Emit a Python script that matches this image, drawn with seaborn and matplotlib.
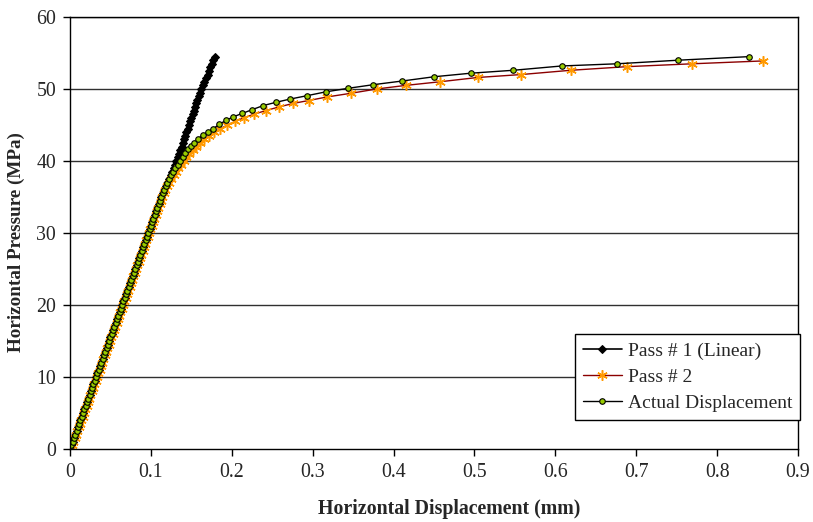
import matplotlib
matplotlib.use("Agg")
import matplotlib.pyplot as plt
import seaborn as sns
import pandas as pd

# ---- data ----
p_lin = [0.0, 0.5, 1.0, 1.5, 2.0, 2.5, 3.0, 3.5, 4.0, 4.5, 5.0, 5.5, 6.0, 6.5, 7.0, 7.5,
         8.0, 8.5, 9.0, 9.5, 10.0, 10.5, 11.0, 11.5, 12.0, 12.5, 13.0, 13.5, 14.0, 14.5,
         15.0, 15.5, 16.0, 16.5, 17.0, 17.5, 18.0, 18.5, 19.0, 19.5, 20.0, 20.5, 21.0,
         21.5, 22.0, 22.5, 23.0, 23.5, 24.0, 24.5, 25.0, 25.5, 26.0, 26.5, 27.0, 27.5,
         28.0, 28.5, 29.0, 29.5, 30.0, 30.5, 31.0, 31.5, 32.0, 32.5, 33.0, 33.5, 34.0,
         34.5, 35.0, 35.5, 36.0, 36.5, 37.0, 37.5]
x_lin = [0.0000, 0.0016, 0.0032, 0.0048, 0.0065, 0.0081, 0.0097, 0.0113, 0.0129, 0.0145,
         0.0161, 0.0177, 0.0194, 0.0210, 0.0226, 0.0242, 0.0258, 0.0274, 0.0290, 0.0306,
         0.0323, 0.0339, 0.0355, 0.0371, 0.0387, 0.0403, 0.0419, 0.0435, 0.0452, 0.0468,
         0.0484, 0.0500, 0.0516, 0.0532, 0.0548, 0.0565, 0.0581, 0.0597, 0.0613, 0.0629,
         0.0645, 0.0661, 0.0677, 0.0694, 0.0710, 0.0726, 0.0742, 0.0758, 0.0774, 0.0790,
         0.0806, 0.0823, 0.0839, 0.0855, 0.0871, 0.0887, 0.0903, 0.0919, 0.0935, 0.0952,
         0.0968, 0.0984, 0.1000, 0.1016, 0.1032, 0.1048, 0.1065, 0.1081, 0.1097, 0.1113,
         0.1129, 0.1146, 0.1165, 0.1185, 0.1205, 0.1228]

# Pass # 1 (Linear): upper part
p1_p_up = [38.0, 38.5, 39.0, 39.5, 40.0, 40.5, 41.0, 41.5, 42.0, 42.5, 43.0, 43.5, 44.0,
           44.5, 45.0, 45.5, 46.0, 46.5, 47.0, 47.5, 48.0, 48.5, 49.0, 49.5, 50.0, 50.5,
           51.0, 51.5, 52.0, 52.5, 53.0, 53.5, 54.0, 54.5]
p1_x_up = [0.1245, 0.1262, 0.1280, 0.1297, 0.1315, 0.1331, 0.1347, 0.1364, 0.1380, 0.1395,
           0.1410, 0.1425, 0.1440, 0.1455, 0.1470, 0.1485, 0.1500, 0.1515, 0.1530, 0.1545,
           0.1560, 0.1576, 0.1592, 0.1609, 0.1625, 0.1644, 0.1662, 0.1681, 0.1700, 0.1718,
           0.1735, 0.1753, 0.1770, 0.1790]

# Actual Displacement: curved part
ad_x_up = [0.1252, 0.1275, 0.1303, 0.1333, 0.1361, 0.1395, 0.1427, 0.1464, 0.1498, 0.1538,
           0.1588, 0.1642, 0.1700, 0.1774, 0.1844, 0.1931, 0.2021, 0.2129, 0.2244, 0.2389,
           0.2546, 0.2720, 0.2930, 0.3160, 0.3440, 0.3750, 0.4100, 0.4500, 0.4960, 0.5480,
           0.6080, 0.6760, 0.7520, 0.8400]
ad_p_up = [38.0, 38.5, 39.0, 39.4, 40.0, 40.5, 41.1, 41.6, 42.1, 42.5, 43.1, 43.65, 44.0,
           44.5, 45.1, 45.65, 46.15, 46.6, 47.1, 47.7, 48.15, 48.6, 49.07, 49.6, 50.1,
           50.6, 51.1, 51.7, 52.2, 52.6, 53.2, 53.5, 54.0, 54.5]

# Pass # 2: linear part and curved part
p2_x_lin = [0.0010, 0.0026, 0.0042, 0.0058, 0.0075, 0.0091, 0.0107, 0.0123, 0.0139, 0.0155,
            0.0171, 0.0187, 0.0204, 0.0220, 0.0236, 0.0252, 0.0268, 0.0284, 0.0300, 0.0316,
            0.0333, 0.0349, 0.0365, 0.0381, 0.0397, 0.0413, 0.0429, 0.0445, 0.0462, 0.0478,
            0.0494, 0.0510, 0.0526, 0.0542, 0.0558, 0.0575, 0.0591, 0.0607, 0.0623, 0.0639,
            0.0655, 0.0671, 0.0687, 0.0704, 0.0720, 0.0736, 0.0752, 0.0768, 0.0784, 0.0800,
            0.0816, 0.0833, 0.0849, 0.0865, 0.0881, 0.0897, 0.0913, 0.0929, 0.0945, 0.0962,
            0.0978, 0.0994, 0.1010, 0.1026, 0.1042, 0.1058, 0.1075, 0.1091, 0.1107, 0.1123,
            0.1140, 0.1158, 0.1178, 0.1198, 0.1220, 0.1244]
p2_x_up = [0.1280, 0.1310, 0.1340, 0.1372, 0.1405, 0.1440, 0.1477, 0.1515, 0.1558, 0.1605,
           0.1658, 0.1718, 0.1785, 0.1860, 0.1945, 0.2040, 0.2150, 0.2275, 0.2420, 0.2580,
           0.2760, 0.2950, 0.3180, 0.3470, 0.3790, 0.4150, 0.4570, 0.5040, 0.5570, 0.6190,
           0.6880, 0.7690, 0.8570]
p2_p_up = [38.0, 38.5, 39.0, 39.5, 40.0, 40.5, 41.0, 41.5, 42.0, 42.5, 43.0, 43.5, 44.0,
           44.5, 45.0, 45.5, 46.0, 46.5, 47.0, 47.5, 48.0, 48.4, 48.9, 49.4, 50.0, 50.5,
           51.0, 51.6, 52.0, 52.6, 53.1, 53.5, 53.9]

x_ticks = [0, 0.1, 0.2, 0.3, 0.4, 0.5, 0.6, 0.7, 0.8, 0.9]
x_tick_labels = ["0", "0.1", "0.2", "0.3", "0.4", "0.5", "0.6", "0.7", "0.8", "0.9"]
y_ticks = [0, 10, 20, 30, 40, 50, 60]
series_names = ["Pass # 1 (Linear)", "Pass # 2", "Actual Displacement"]

df1 = pd.DataFrame({"x": x_lin + p1_x_up, "p": p_lin + p1_p_up})
df2 = pd.DataFrame({"x": p2_x_lin + p2_x_up, "p": p_lin + p2_p_up})
df3 = pd.DataFrame({"x": x_lin + ad_x_up, "p": p_lin + ad_p_up})

# ---- style ----
sns.set_style("white")
plt.rcParams["font.family"] = ["Liberation Serif", "DejaVu Serif"]
FS = 14.3

fig = plt.figure(figsize=(8.13, 5.22), dpi=100)
ax = fig.add_axes([70 / 813, 1 - 449 / 522, (798 - 70) / 813, (449 - 17) / 522])

ax.set_xlim(0, 0.9)
ax.set_ylim(0, 60)
for yv in y_ticks[1:]:
    ax.axhline(yv, color="#303030", lw=1.0, zorder=0.5)

sns.lineplot(data=df1, x="x", y="p", sort=False, estimator=None, ax=ax,
             color="black", lw=1.2, marker="D", markersize=3.8,
             markerfacecolor="black", markeredgecolor="black", label=series_names[0])
sns.lineplot(data=df2, x="x", y="p", sort=False, estimator=None, ax=ax,
             color="#8B0000", lw=1.0, marker=(6, 2, 0), markersize=7.5,
             markeredgecolor="#FF9900", markerfacecolor="#FF9900", markeredgewidth=1.1,
             label=series_names[1])
sns.lineplot(data=df3, x="x", y="p", sort=False, estimator=None, ax=ax,
             color="black", lw=1.0, marker="o", markersize=4.0,
             markerfacecolor="#99CC00", markeredgecolor="black", markeredgewidth=0.8,
             label=series_names[2])

ax.set_xticks(x_ticks)
ax.set_xticklabels(x_tick_labels)
ax.set_yticks(y_ticks)
ax.tick_params(axis="both", direction="out", length=5, width=1, color="black",
               labelsize=FS, pad=5, bottom=True, left=True)
for s in ax.spines.values():
    s.set_color("black")
    s.set_linewidth(1.0)

ax.set_xlabel("Horizontal Displacement (mm)", fontsize=FS, fontweight="bold")
ax.set_ylabel("Horizontal Pressure (MPa)", fontsize=13.8, fontweight="bold")
ax.xaxis.set_label_coords((449 - 70) / 728, -(499 - 449) / 432)
ax.yaxis.set_label_coords((25 - 70) / 728, (449 - 242) / 432)

leg = ax.legend(loc="lower right", bbox_to_anchor=(1.003, 0.067), fontsize=14,
                frameon=True, fancybox=False, framealpha=1, edgecolor="black",
                borderpad=0.42, labelspacing=0.42, handlelength=2.0, handletextpad=0.3,
                borderaxespad=0)
leg.get_frame().set_linewidth(1.0)

fig.savefig("out.png", dpi=100)
